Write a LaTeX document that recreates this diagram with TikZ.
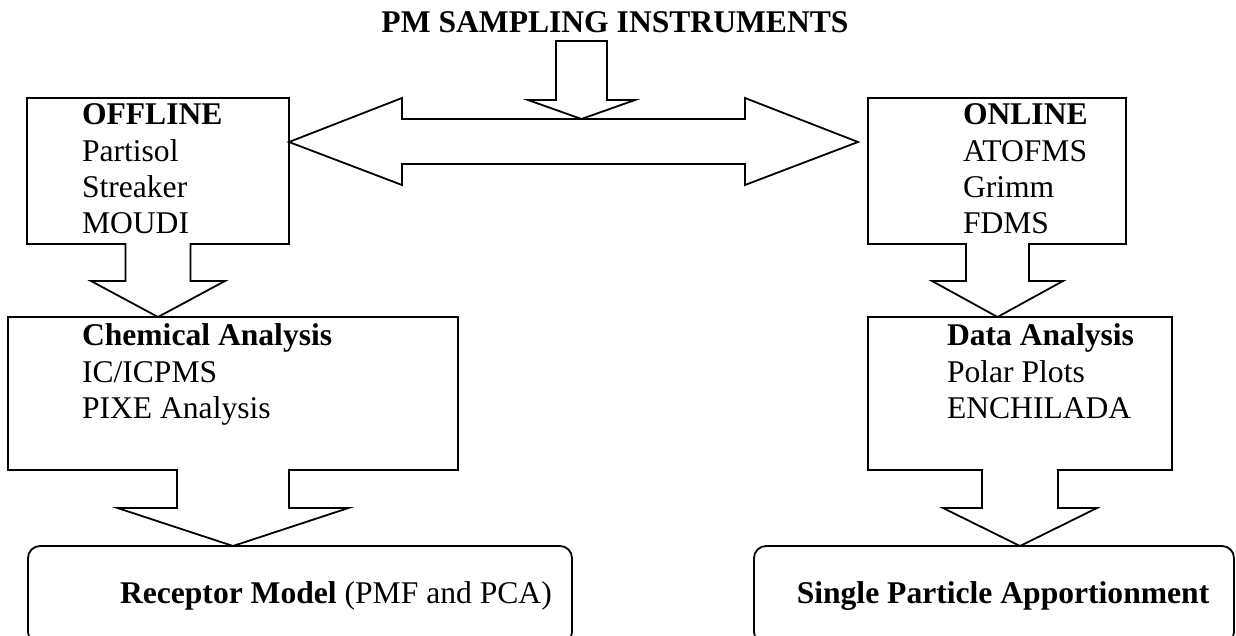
\documentclass[tikz,border=0pt]{standalone}
\usepackage{fontspec}
\setmainfont{Liberation Serif}
\usetikzlibrary{fit,calc}
\tikzset{
  blk/.style={draw=black,line width=0.9pt,line join=miter,fill=white},
  boxn/.style={inner sep=0pt,outer sep=0pt,draw=none},
  rbox/.style={inner sep=0pt,outer sep=0pt,draw=black,line width=0.9pt,rounded corners=6pt},
  txt/.style={inner sep=0pt,outer sep=0pt,anchor=base west,font=\fontsize{15.8}{18}\selectfont},
  btxt/.style={txt,font=\fontsize{15.8}{18}\selectfont\bfseries}
}
% #1 box node, #2 target node, #3 centre x, #4 shaft half, #5 head half, #6 head y
\newcommand\calloutbox[6]{%
  \draw[blk] ({#3-#4},0 |- #1.south) -- (#1.south west) -- (#1.north west) -- (#1.north east)
    -- (#1.south east) -- ({#3+#4},0 |- #1.south) -- ({#3+#4},#6) -- ({#3+#5},#6)
    -- (#3,0 |- #2.north) -- ({#3-#5},#6) -- ({#3-#4},#6) -- cycle;}
\begin{document}
\begin{tikzpicture}[x=0.5pt,y=-0.5pt]
\useasboundingbox (0,0) rectangle (1236,636);
% boxes
\node[boxn,fit={(27,98) (289,244)}] (offline) {};
\node[boxn,fit={(868,98) (1126,244)}] (online) {};
\node[boxn,fit={(8,317) (458,470)}] (chem) {};
\node[boxn,fit={(868,317) (1172,470)}] (data) {};
\node[rbox,fit={(28,546) (572,644)}] (receptor) {};
\node[rbox,fit={(754,546) (1234,644)}] (single) {};
% title
\node[btxt,anchor=base] (title) at (615,33) {PM SAMPLING INSTRUMENTS};
% callouts
\calloutbox{offline}{chem}{158}{32.5}{67}{281}
\calloutbox{online}{data}{997.5}{31.5}{65.5}{281}
\calloutbox{chem}{receptor}{233}{56}{115.5}{508}
\calloutbox{data}{single}{1020}{38}{77}{508}
% double arrow
\coordinate (ltip) at (offline.east |- 0,142);
\coordinate (rtip) at (858,142);
\draw[blk] (ltip) -- (402,98) -- (402,119) -- (745,119) -- (745,98) -- (rtip)
  -- (745,185) -- (745,164) -- (402,164) -- (402,185) -- cycle;
% title arrow
\coordinate (ttop) at (581.5,41);
\coordinate (ttip) at (581.5,119);
\draw[blk] (556,41) -- (556,100) -- (528,100) -- (ttip) -- (635,100) -- (607,100) -- (607,41) -- cycle;
% texts
\node[btxt] (t1) at (82,125) {OFFLINE};
\node[txt] (t2) at (82,162) {Partisol};
\node[txt] (t3) at (82,198) {Streaker};
\node[txt] (t4) at (82,234) {MOUDI};
\node[btxt] (u1) at (963,125) {ONLINE};
\node[txt] (u2) at (963,162) {ATOFMS};
\node[txt] (u3) at (963,198) {Grimm};
\node[txt] (u4) at (963,234) {FDMS};
\node[btxt] (c1) at (82,345) {Chemical Analysis};
\node[txt] (c2) at (82,382) {IC/ICPMS};
\node[txt] (c3) at (82,418) {PIXE Analysis};
\node[btxt] (d1) at (947,345) {Data Analysis};
\node[txt] (d2) at (947,382) {Polar Plots};
\node[txt] (d3) at (947,418) {ENCHILADA};
\node[txt] (r1) at (120,603) {\textbf{Receptor Model} (PMF and PCA)};
\node[btxt,anchor=base] (s1) at (1003,603) {Single Particle Apportionment};
\end{tikzpicture}
\end{document}
